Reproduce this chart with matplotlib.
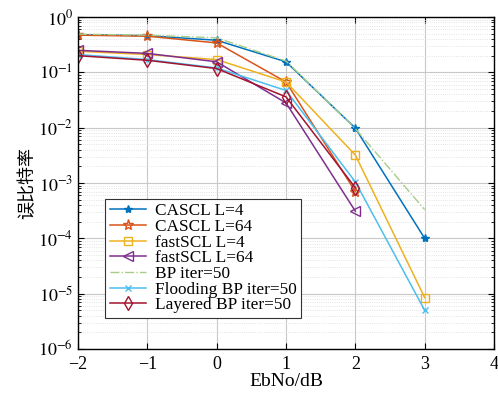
import numpy as np
import matplotlib
matplotlib.use("Agg")
from matplotlib import pyplot as plt

plt.rcParams['font.family'] = ['Liberation Serif', 'Noto Sans CJK SC']
plt.rcParams['mathtext.fontset'] = 'stix'

snr = [-2, -1, 0, 1, 2, 3]
snr2 = [-2, -1, 0, 1, 2]

cascl4 = [0.48, 0.46, 0.38, 0.155, 0.0098, 1.0e-4]
cascl64 = [0.47, 0.45, 0.34, 0.067, 7.0e-4]
fastscl4 = [0.24, 0.21, 0.17, 0.067, 3.2e-3, 8.5e-6]
fastscl64 = [0.25, 0.22, 0.155, 0.028, 3.1e-4]
bp50 = [0.49, 0.47, 0.42, 0.16, 0.0096, 3.3e-4]
flood50 = [0.21, 0.17, 0.12, 0.047, 1.05e-3, 5.0e-6]
layered50 = [0.20, 0.165, 0.117, 0.036, 8.2e-4]

fig = plt.figure(figsize=(4.98, 3.95), dpi=100)
ax = fig.add_axes([78/498, 1-349/395, 416/498, 332/395])

ax.semilogy(snr, cascl4, '-*', color='#0072BD', lw=1.1, ms=6, label='CASCL L=4')
ax.semilogy(snr2, cascl64, '-*', color='#D95319', lw=1.1, ms=8, mfc='none', mew=1.0, label='CASCL L=64')
ax.semilogy(snr, fastscl4, '-s', color='#EDB120', lw=1.1, ms=6, mfc='none', label='fastSCL L=4')
ax.semilogy(snr2, fastscl64, '-<', color='#7E2F8E', lw=1.1, ms=7, mfc='none', label='fastSCL L=64')
ax.semilogy(snr, bp50, '-.', color='#a6cd88', lw=1.0, label='BP iter=50')
ax.semilogy(snr, flood50, '-x', color='#4DBEEE', lw=1.1, ms=5, label='Flooding BP iter=50')
ax.semilogy(snr2, layered50, '-d', color='#A2142F', lw=1.1, ms=7, mfc='none', label='Layered BP iter=50')

ax.set_xlim(-2, 4)
ax.set_ylim(1e-6, 1)
ax.set_xticks(np.arange(-2, 5, 1))
ax.set_xticklabels(['\u22122', '\u22121', '0', '1', '2', '3', '4'])
ax.set_yticks([10.0**k for k in range(-6, 1)])
ax.set_yticklabels([r'$10^{%d}$' % k for k in range(-6, 1)])
ax.tick_params(which='both', direction='in', top=True, right=True, labelsize=13)
ax.tick_params(axis='x', pad=5)
ax.tick_params(which='major', length=4)
ax.tick_params(which='minor', length=2)
ax.grid(True, which='major', color='#c8c8c8', lw=0.8)
ax.grid(True, which='minor', color='#dcdcdc', lw=0.6, ls=':')
for s in ax.spines.values():
    s.set_linewidth(1.0)

ax.set_xlabel('EbNo/dB', fontsize=14, labelpad=0)
ax.set_ylabel('误比特率', fontsize=13, labelpad=1)

leg = ax.legend(loc='lower left', bbox_to_anchor=(0.066, 0.094), fontsize=12.4,
                fancybox=False, framealpha=1, edgecolor='#333333',
                handlelength=2.1, handletextpad=0.5, labelspacing=-0.02,
                borderpad=0.25, borderaxespad=0)
leg.get_frame().set_linewidth(0.8)

fig.savefig('out.png', dpi=100)
